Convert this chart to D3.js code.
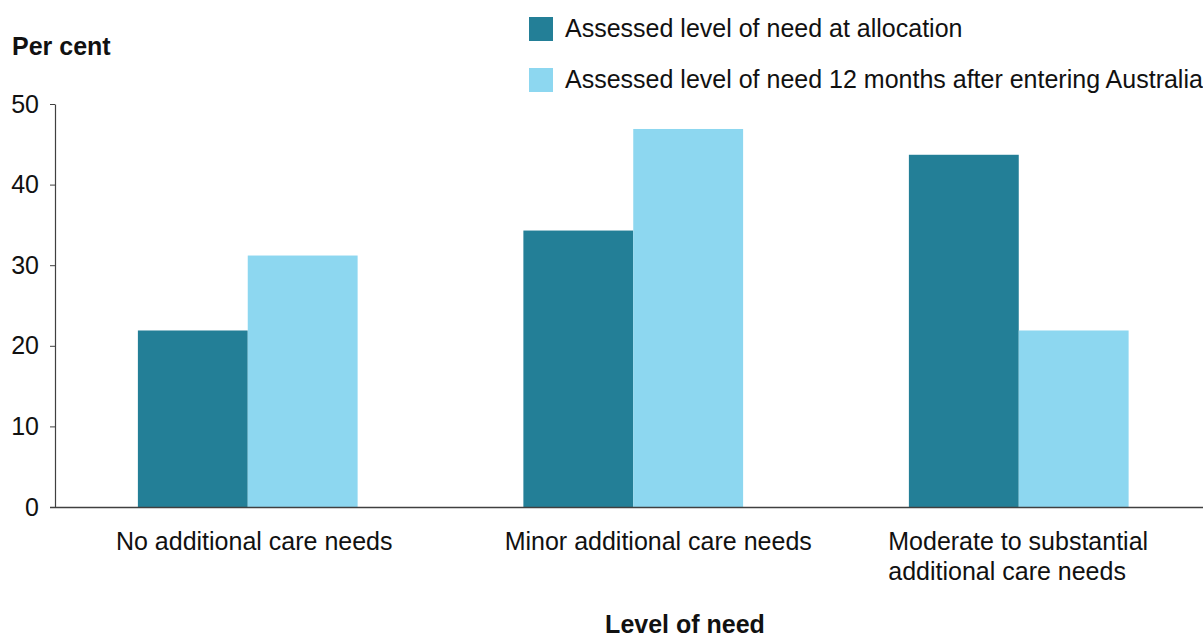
<!DOCTYPE html>
<html>
<head>
<meta charset="utf-8">
<script src="https://cdn.jsdelivr.net/npm/d3@7"></script>
<style>
  html, body { margin: 0; padding: 0; background: #fff; }
  svg { display: block; font-family: Arial, "Liberation Sans", sans-serif; }
</style>
</head>
<body>
<svg id="chart" width="1203" height="639"></svg>
<script>
const categories = [
  "No additional care needs",
  "Minor additional care needs",
  "Moderate to substantial additional care needs"
];
const categoryLines = [
  ["No additional care needs"],
  ["Minor additional care needs"],
  ["Moderate to substantial", "additional care needs"]
];
const seriesNames = [
  "Assessed level of need at allocation",
  "Assessed level of need 12 months after entering Australia"
];
const atAllocation = [21.9, 34.3, 43.7];
const after12Months = [31.2, 46.9, 21.9];
const yTicks = [0, 10, 20, 30, 40, 50];
const colors = ["#237f97", "#8dd7f0"];

const svg = d3.select("#chart");
const plotLeft = 55, plotRight = 1211.5, plotTop = 104, plotBottom = 507;
const fs = 25;

const x0 = d3.scaleBand().domain(categories).range([plotLeft, plotRight])
  .paddingInner(0.43).paddingOuter(0.215);
const x1 = d3.scaleBand().domain([0, 1]).range([0, x0.bandwidth()]);
const y = d3.scaleLinear().domain([0, 50]).range([plotBottom, plotTop]);

const series = [atAllocation, after12Months];

// bars
const g = svg.append("g");
categories.forEach((c, i) => {
  series.forEach((s, j) => {
    g.append("rect")
      .attr("x", x0(c) + x1(j))
      .attr("y", y(s[i]))
      .attr("width", x1.bandwidth())
      .attr("height", y(0) - y(s[i]))
      .attr("fill", colors[j]);
  });
});

// y axis
const yAxis = d3.axisLeft(y).tickValues(yTicks).tickSize(5).tickPadding(11).tickSizeOuter(0);
const ya = svg.append("g").attr("transform", `translate(${plotLeft},0)`).call(yAxis);
ya.select(".domain").attr("stroke", "#404040").attr("stroke-width", 1.2);
ya.selectAll(".tick line").attr("stroke", "#404040");
ya.selectAll(".tick text").attr("font-size", fs).attr("fill", "#111")
  .attr("font-family", "Arial, 'Liberation Sans', sans-serif");

// x axis line
svg.append("line")
  .attr("x1", plotLeft - 5).attr("x2", 1203)
  .attr("y1", y(0) + 0.5).attr("y2", y(0) + 0.5)
  .attr("stroke", "#404040").attr("stroke-width", 1.5);

// category labels
const labelPos = [
  { anchor: "middle", dx: 6.5 },
  { anchor: "middle", dx: 25 },
  { anchor: "start", dx: -130.5 }
];
categories.forEach((c, i) => {
  const cx = x0(c) + x0.bandwidth() / 2 + labelPos[i].dx;
  const t = svg.append("text")
    .attr("x", cx).attr("y", 550)
    .attr("text-anchor", labelPos[i].anchor)
    .attr("font-size", fs).attr("fill", "#111");
  categoryLines[i].forEach((line, k) => {
    t.append("tspan").attr("x", cx).attr("dy", k === 0 ? 0 : 30).text(line);
  });
});

// axis titles
svg.append("text").attr("x", 12).attr("y", 55)
  .attr("font-size", fs).attr("font-weight", "bold").attr("fill", "#111")
  .text("Per cent");
svg.append("text").attr("x", 685).attr("y", 633)
  .attr("text-anchor", "middle")
  .attr("font-size", fs).attr("font-weight", "bold").attr("fill", "#111")
  .text("Level of need");

// legend
seriesNames.forEach((name, j) => {
  const ly = 17 + j * 51;
  svg.append("rect").attr("x", 529).attr("y", ly).attr("width", 24).attr("height", 24)
    .attr("fill", colors[j]);
  svg.append("text").attr("x", 565).attr("y", ly + 19.5)
    .attr("font-size", fs).attr("fill", "#111").text(name);
});
</script>
</body>
</html>
